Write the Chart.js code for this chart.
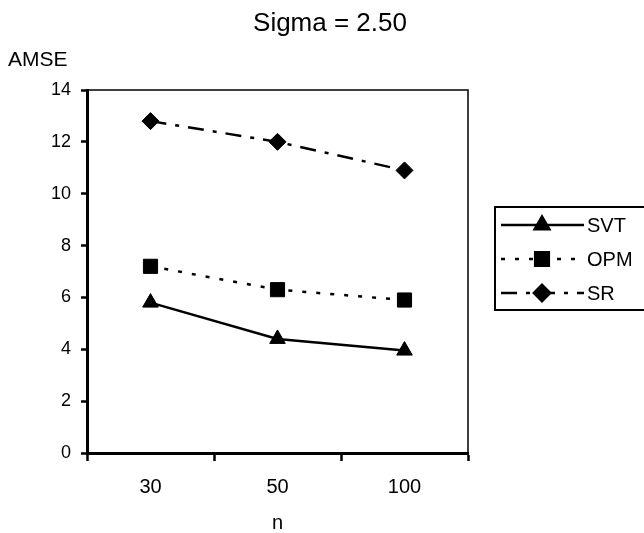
<!DOCTYPE html>
<html>
<head>
<meta charset="utf-8">
<script src="https://cdn.jsdelivr.net/npm/chart.js@4/dist/chart.umd.min.js"></script>
<style>
  html, body { margin: 0; padding: 0; background: #fff; }
  canvas { display: block; }
</style>
</head>
<body>
<canvas id="amseChart" width="644" height="533"></canvas>
<script>
const sampleSizes = ['30', '50', '100'];
const svtValues = [5.8, 4.4, 3.95];
const opmValues = [7.2, 6.3, 5.9];
const srValues = [12.8, 12.0, 10.9];
const yTicks = [0, 2, 4, 6, 8, 10, 12, 14];

const FONT = '"Liberation Sans", Arial, sans-serif';
const INK = '#000';

function series(label, data, style, radius, dash) {
    return {
        label: label,
        data: data,
        borderColor: INK,
        backgroundColor: INK,
        borderWidth: 2.5,
        borderDash: dash,
        pointStyle: style,
        pointRadius: radius,
        pointHoverRadius: radius,
        pointBorderWidth: 1,
        pointBackgroundColor: INK,
        pointBorderColor: INK,
        tension: 0,
        fill: false
    };
}

const datasets = [
    series('SVT', svtValues, 'triangle', 9, []),
    series('OPM', opmValues, 'rect', 10, [4, 10]),
    series('SR', srValues, 'rectRot', 8.5, [16, 9, 4, 9])
];

// frame, headings and the boxed legend on the right
const decorations = {
    id: 'decorations',
    afterDraw(chart) {
        const ctx = chart.ctx;
        const a = chart.chartArea;
        ctx.save();
        ctx.strokeStyle = INK;
        ctx.lineWidth = 1.5;
        ctx.beginPath();
        ctx.moveTo(a.left, a.top);
        ctx.lineTo(a.right, a.top);
        ctx.lineTo(a.right, a.bottom);
        ctx.stroke();

        ctx.fillStyle = INK;
        ctx.textBaseline = 'middle';
        ctx.font = '26px ' + FONT;
        ctx.textAlign = 'center';
        ctx.fillText('Sigma = 2.50', 330, 24);
        ctx.font = '21px ' + FONT;
        ctx.textAlign = 'left';
        ctx.fillText('AMSE', 8, 60);

        // legend box runs off the right edge
        ctx.lineWidth = 2;
        ctx.strokeRect(495, 207, 200, 103);
        const rows = [225, 259, 293];
        ctx.font = '20px ' + FONT;
        chart.data.datasets.forEach((ds, i) => {
            const y = rows[i];
            ctx.save();
            ctx.lineWidth = ds.borderWidth;
            ctx.setLineDash(ds.borderDash);
            ctx.beginPath();
            ctx.moveTo(501, y);
            ctx.lineTo(584, y);
            ctx.stroke();
            ctx.restore();
            Chart.helpers.drawPoint(ctx, {
                pointStyle: ds.pointStyle,
                radius: ds.pointRadius,
                borderWidth: 1
            }, 542, y);
            ctx.fillStyle = INK;
            ctx.fillText(ds.label, 587, y + 1);
        });
        ctx.restore();
    }
};

new Chart(document.getElementById('amseChart'), {
    type: 'line',
    data: { labels: sampleSizes, datasets: datasets },
    plugins: [decorations],
    options: {
        responsive: false,
        animation: false,
        layout: { padding: { top: 90, right: 176, left: 0, bottom: 0 } },
        plugins: {
            legend: { display: false },
            title: { display: false },
            tooltip: { enabled: false }
        },
        scales: {
            x: {
                offset: true,
                afterFit(scale) { scale.height = 80; },
                grid: {
                    offset: true,
                    drawOnChartArea: false,
                    drawTicks: true,
                    tickLength: 8,
                    tickWidth: 2.5,
                    tickColor: INK
                },
                border: { display: true, color: INK, width: 3 },
                ticks: {
                    color: INK,
                    padding: 14,
                    maxRotation: 0,
                    font: { family: FONT, size: 20 }
                },
                title: {
                    display: true,
                    text: 'n',
                    color: INK,
                    padding: { top: 0, bottom: 0 },
                    font: { family: FONT, size: 20, lineHeight: 1 }
                }
            },
            y: {
                min: 0,
                max: 14,
                afterFit(scale) { scale.width = 87; },
                afterBuildTicks(scale) {
                    scale.ticks = yTicks.map(v => ({ value: v }));
                },
                grid: {
                    drawOnChartArea: false,
                    drawTicks: true,
                    tickLength: 6,
                    tickWidth: 2.5,
                    tickColor: INK
                },
                border: { display: true, color: INK, width: 3 },
                ticks: {
                    color: INK,
                    padding: 10,
                    font: { family: FONT, size: 18 }
                }
            }
        }
    }
});
</script>
</body>
</html>
